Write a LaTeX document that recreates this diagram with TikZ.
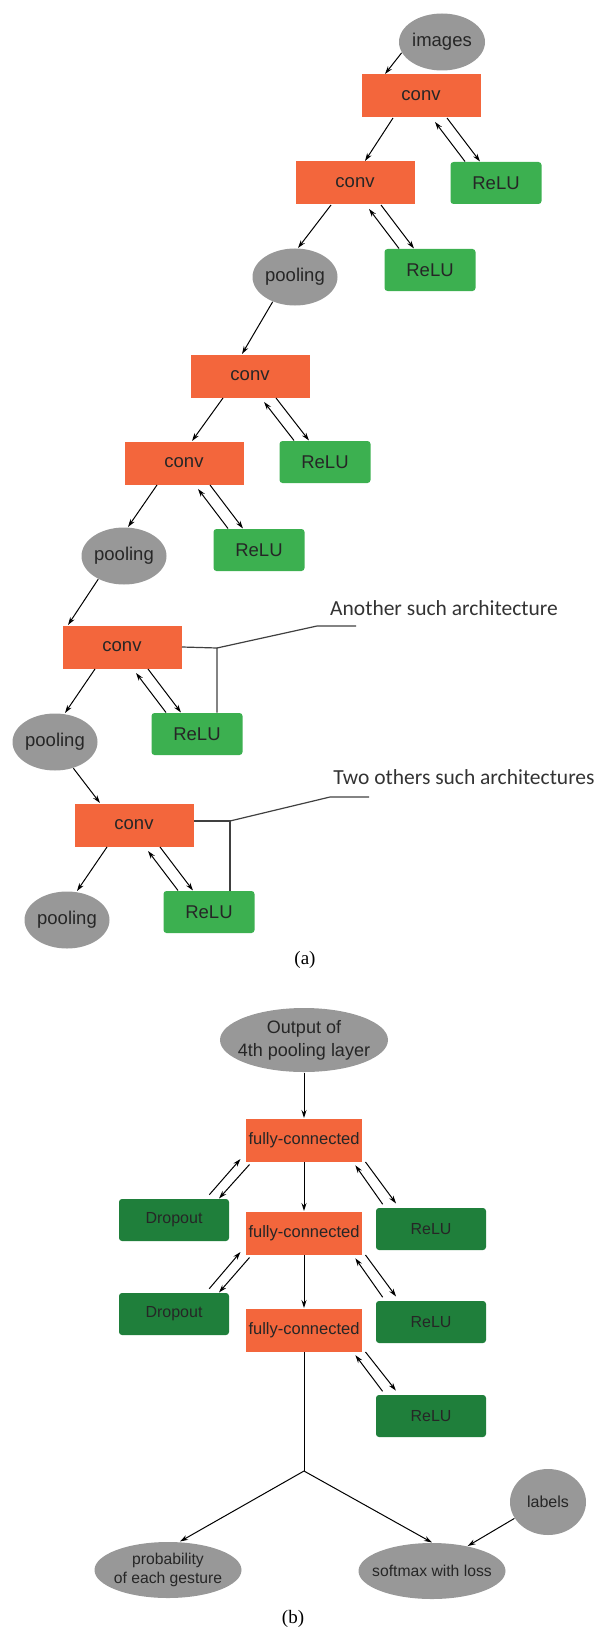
\documentclass[tikz,border=0pt]{standalone}
\usepackage{fontspec}
\setmainfont{Liberation Sans}
\newfontfamily\notefont{Carlito}
\newfontfamily\capfont{Liberation Serif}
\usetikzlibrary{positioning}
\usetikzlibrary{shapes,arrows,arrows.meta}

\definecolor{convorange}{RGB}{243,102,60}
\definecolor{relugreen}{RGB}{60,176,80}
\definecolor{fcgreen}{RGB}{31,127,59}
\definecolor{blobgray}{RGB}{152,152,152}

\tikzset{
  layer/.style={rectangle, fill=convorange, inner sep=0pt, text=black!85},
  conv/.style={layer, minimum width=119pt, minimum height=43pt, font=\fontsize{18.5}{20}\selectfont},
  fc/.style={layer, minimum width=116pt, minimum height=43pt, font=\fontsize{16.5}{18}\selectfont},
  relu/.style={rectangle, rounded corners=3pt, fill=relugreen, text=black!85, minimum width=91pt, minimum height=42pt, inner sep=0pt, font=\fontsize{18.5}{20}\selectfont},
  actb/.style={rectangle, rounded corners=3pt, fill=fcgreen, text=black!85, minimum width=110pt, minimum height=42pt, inner sep=0pt, font=\fontsize{16}{18}\selectfont},
  blob/.style={ellipse, fill=blobgray, text=black!85, inner xsep=-20pt, inner ysep=0pt, minimum width=85pt, minimum height=57pt, font=\fontsize{18.5}{20}\selectfont},
  note/.style={font=\notefont\fontsize{21.5}{24}\selectfont, text=black!80},
  brace/.style={draw=black!75, line width=1.2pt},
}

\begin{document}
\begin{tikzpicture}[x=1pt, y=-1pt, line width=1pt, >={Stealth[length=8pt,width=5pt]}]
    \useasboundingbox (0,0) rectangle (601,1629);

    % (a) convolutional part
    \node(images) [blob, minimum width=86pt] at (442,42) {images};
    \node(conv1) [conv] at (421,96) {conv};
    \node(relu1) [relu] at (496,183) {ReLU};
    \node(conv2) [conv] at (355,183) {conv};
    \node(relu2) [relu] at (430,270) {ReLU};
    \node(pool1) [blob] at (295,277) {pooling};
    \node(conv3) [conv] at (250,376) {conv};
    \node(relu3) [relu] at (325,462) {ReLU};
    \node(conv4) [conv] at (184,463) {conv};
    \node(relu4) [relu] at (259,550) {ReLU};
    \node(pool2) [blob] at (124,556) {pooling};
    \node(conv5) [conv] at (122,647) {conv};
    \node(relu5) [relu] at (197,734) {ReLU};
    \node(pool3) [blob] at (55,742) {pooling};
    \node(conv6) [conv] at (134,825) {conv};
    \node(relu6) [relu] at (209,912) {ReLU};
    \node(pool4) [blob] at (67,920) {pooling};

    \node(note1) [note] at (444,608) {Another such architecture};
    \node(note2) [note] at (464,777) {Two others such architectures};
    \coordinate(j1) at (217,648);
    \coordinate(k1) at (317,626);
    \coordinate(k1e) at (356,626);
    \coordinate(j2) at (230,821);
    \coordinate(k2) at (330,797);
    \coordinate(k2e) at (369,797);
    \node(capa) [font=\capfont\fontsize{19}{20}\selectfont] at (305,960) {(a)};

    \draw [->] (images.195) -- ([xshift=-36pt]conv1.north);
    \draw [->] ([xshift=-28pt]conv1.south) -- ([xshift=10pt]conv2.north);
    \draw [->, shorten >=5pt] ([xshift=-31pt]relu1.north) -- ([xshift=11pt]conv1.south);
    \draw [->] ([xshift=26pt]conv1.south) -- ([xshift=-16pt]relu1.north);
    \draw [->] ([xshift=-24pt]conv2.south) -- ([xshift=3pt]pool1.north);
    \draw [->, shorten >=5pt] ([xshift=-31pt]relu2.north) -- ([xshift=11pt]conv2.south);
    \draw [->] ([xshift=26pt]conv2.south) -- ([xshift=-16pt]relu2.north);
    \draw [->] (pool1.228) -- ([xshift=-8pt]conv3.north);
    \draw [->] ([xshift=-27pt]conv3.south) -- ([xshift=8pt]conv4.north);
    \draw [->, shorten >=5pt] ([xshift=-31pt]relu3.north) -- ([xshift=11pt]conv3.south);
    \draw [->] ([xshift=26pt]conv3.south) -- ([xshift=-16pt]relu3.north);
    \draw [->] ([xshift=-27pt]conv4.south) -- ([xshift=4pt]pool2.north);
    \draw [->, shorten >=5pt] ([xshift=-31pt]relu4.north) -- ([xshift=11pt]conv4.south);
    \draw [->] ([xshift=26pt]conv4.south) -- ([xshift=-16pt]relu4.north);
    \draw [->] (pool2.222) -- ([xshift=-54pt]conv5.north);
    \draw [->] ([xshift=-27pt]conv5.south) -- ([xshift=10pt]pool3.north);
    \draw [->, shorten >=5pt] ([xshift=-31pt]relu5.north) -- ([xshift=11pt]conv5.south);
    \draw [->] ([xshift=26pt]conv5.south) -- ([xshift=-16pt]relu5.north);
    \draw [->] (pool3.305) -- ([xshift=-34pt]conv6.north);
    \draw [->] ([xshift=-27pt]conv6.south) -- ([xshift=10pt]pool4.north);
    \draw [->, shorten >=5pt] ([xshift=-31pt]relu6.north) -- ([xshift=11pt]conv6.south);
    \draw [->] ([xshift=26pt]conv6.south) -- ([xshift=-16pt]relu6.north);

    \draw [brace] (conv5.east) -- (j1) -- ([xshift=20pt]relu5.north);
    \draw [brace] (j1) -- (k1) -- (k1e);
    \draw [brace] ([yshift=4pt]conv6.east) -- (j2) -- ([xshift=21pt]relu6.north);
    \draw [brace] (j2) -- (k2) -- (k2e);

    % (b) fully-connected part
    \node(out) [blob, minimum width=168pt, minimum height=64pt, align=center, font=\fontsize{18}{23}\selectfont] at (304,1040) {Output of\\4th pooling layer};
    \node(fc1) [fc] at (304,1140) {fully-connected};
    \node(drop1) [actb] at (174,1220) {Dropout};
    \node(relub1) [actb] at (431,1229) {ReLU};
    \node(fc2) [fc] at (304,1233) {fully-connected};
    \node(drop2) [actb] at (174,1314) {Dropout};
    \node(relub2) [actb] at (431,1322) {ReLU};
    \node(fc3) [fc] at (304,1330) {fully-connected};
    \node(relub3) [actb] at (431,1416) {ReLU};
    \coordinate(split) at (304,1471);
    \node(prob) [blob, minimum width=147pt, minimum height=56pt, align=center, font=\fontsize{15.7}{18.5}\selectfont] at (168,1570) {probability\\of each gesture};
    \node(softmax) [blob, minimum width=147pt, minimum height=56pt, font=\fontsize{15.7}{18}\selectfont] at (432,1571) {softmax with loss};
    \node(labels) [blob, minimum width=76pt, minimum height=66pt, font=\fontsize{16}{18}\selectfont] at (548,1502) {labels};
    \node(capb) [font=\capfont\fontsize{19}{20}\selectfont] at (293,1619) {(b)};

    \draw [->] (out.south) -- (fc1.north);
    \draw [->] (fc1.south) -- (fc2.north);
    \draw [->] (fc2.south) -- (fc3.north);
    \draw [->, shorten <=5pt] ([xshift=32pt]drop1.north) -- ([xshift=-5pt,yshift=3pt]fc1.south west);
    \draw [->] ([xshift=4pt,yshift=-2.5pt]fc1.south west) -- ([xshift=45pt]drop1.north);
    \draw [->, shorten <=4pt, shorten >=4pt] ([xshift=-46pt]relub1.north) -- ([xshift=-9.5pt]fc1.south east);
    \draw [->, shorten >=5pt] ([xshift=3pt]fc1.south east) -- ([xshift=-32pt]relub1.north);
    \draw [->, shorten <=5pt] ([xshift=32pt]drop2.north) -- ([xshift=-5pt,yshift=3pt]fc2.south west);
    \draw [->] ([xshift=4pt,yshift=-2.5pt]fc2.south west) -- ([xshift=45pt]drop2.north);
    \draw [->, shorten <=4pt, shorten >=4pt] ([xshift=-46pt]relub2.north) -- ([xshift=-9.5pt]fc2.south east);
    \draw [->, shorten >=5pt] ([xshift=3pt]fc2.south east) -- ([xshift=-32pt]relub2.north);
    \draw [->, shorten <=4pt, shorten >=4pt] ([xshift=-46pt]relub3.north) -- ([xshift=-9.5pt]fc3.south east);
    \draw [->, shorten >=5pt] ([xshift=3pt]fc3.south east) -- ([xshift=-32pt]relub3.north);
    \draw (fc3.south) -- (split);
    \draw [->] (split) -- ([xshift=12pt]prob.north);
    \draw [->] (split) -- (softmax.north);
    \draw [->] (labels.206) -- (softmax.35);
\end{tikzpicture}
\end{document}
